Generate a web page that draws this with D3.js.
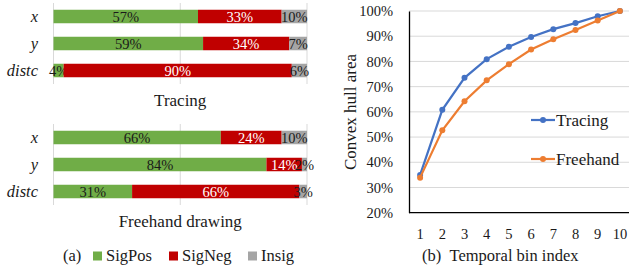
<!DOCTYPE html>
<html><head><meta charset="utf-8">
<script src="https://cdn.jsdelivr.net/npm/d3@7"></script>
<style>
html,body{margin:0;padding:0;background:#fff;}
svg{display:block;}
svg text{font-family:"Liberation Serif","Times New Roman",serif !important;}
</style></head>
<body>
<script>
// ---- data ----
const rowLabels = ["x", "y", "distc"];
const segKeys = ["SigPos", "SigNeg", "Insig"];
const tracingPos = [57, 59, 4];
const tracingNeg = [33, 34, 90];
const tracingIns = [10, 7, 6];
const freehandPos = [66, 84, 31];
const freehandNeg = [24, 14, 66];
const freehandIns = [10, 2, 3];
const panelTitles = ["Tracing", "Freehand drawing"];

const bins = [1, 2, 3, 4, 5, 6, 7, 8, 9, 10];
const tracingArea = [35.0, 60.8, 73.5, 80.9, 85.8, 89.7, 92.8, 95.2, 97.9, 100];
const freehandArea = [33.9, 52.7, 64.2, 72.5, 78.9, 84.7, 88.8, 92.5, 96.2, 100];
const yTicks = [20, 30, 40, 50, 60, 70, 80, 90, 100];
const seriesNames = ["Tracing", "Freehand"];

const segColors = {SigPos: "#70AD47", SigNeg: "#C00000", Insig: "#A5A5A5"};
const segText = {SigPos: "#1a1a1a", SigNeg: "#ffffff", Insig: "#1a1a1a"};
const lineColors = ["#4472C4", "#ED7D31"];
const FONT = "Liberation Serif";

const W = 629, H = 273;
const svg = d3.select("body").append("svg").attr("width", W).attr("height", H)
  .attr("font-family", FONT);

// ---- left: stacked bars ----
const xBar = d3.scaleLinear().domain([0, 100]).range([53.5, 307]);
const panels = [
  {pos: tracingPos, neg: tracingNeg, ins: tracingIns, top: 3, title: panelTitles[0], titleY: 106},
  {pos: freehandPos, neg: freehandNeg, ins: freehandIns, top: 124, title: panelTitles[1], titleY: 227}
];
panels.forEach(p => {
  const g = svg.append("g");
  const yB = d3.scaleBand().domain(rowLabels).range([p.top, p.top + 81]).paddingInner(0.5).paddingOuter(0.25);
  g.selectAll("line.grid").data([0, 50, 100]).join("line")
    .attr("x1", d => xBar(d)).attr("x2", d => xBar(d))
    .attr("y1", p.top).attr("y2", p.top + 81)
    .attr("stroke", "#d9d9d9").attr("stroke-width", 1);
  const rows = rowLabels.map((r, i) => ({row: r, SigPos: p.pos[i], SigNeg: p.neg[i], Insig: p.ins[i]}));
  const stacked = d3.stack().keys(segKeys)(rows);
  stacked.forEach(layer => {
    g.selectAll(null).data(layer).join("rect")
      .attr("x", d => xBar(d[0])).attr("width", d => xBar(d[1]) - xBar(d[0]))
      .attr("y", d => yB(d.data.row)).attr("height", yB.bandwidth())
      .attr("fill", segColors[layer.key]);
    g.selectAll(null).data(layer).join("text")
      .attr("x", d => (xBar(d[0]) + xBar(d[1])) / 2)
      .attr("y", d => yB(d.data.row) + yB.bandwidth() / 2)
      .attr("dy", "0.35em").attr("text-anchor", "middle")
      .attr("font-size", 14.5).attr("fill", segText[layer.key])
      .text(d => d.data[layer.key] + "%");
  });
  g.selectAll("text.row").data(rowLabels).join("text")
    .attr("x", 38).attr("y", d => yB(d) + yB.bandwidth() / 2).attr("dy", "0.35em")
    .attr("text-anchor", "end").attr("font-style", "italic").attr("font-size", 16.5)
    .attr("fill", "#1a1a1a").text(d => d);
  g.append("text").attr("x", xBar(50)).attr("y", p.titleY).attr("text-anchor", "middle")
    .attr("font-size", 17).attr("fill", "#1a1a1a").text(p.title);
});
// legend (a)
const lg = svg.append("g").attr("fill", "#1a1a1a").attr("font-size", 16.5);
lg.append("text").attr("x", 63).attr("y", 261).text("(a)");
const legX = [93, 169, 248];
segKeys.forEach((k, i) => {
  lg.append("rect").attr("x", legX[i]).attr("y", 251.5).attr("width", 9).attr("height", 9).attr("fill", segColors[k]);
  lg.append("text").attr("x", legX[i] + 13).attr("y", 261).text(k);
});

// ---- right: line chart ----
const x = d3.scaleBand().domain(bins).range([409, 631]);
const y = d3.scaleLinear().domain([20, 100]).range([212.7, 11]);
const rg = svg.append("g");
rg.selectAll("line.grid").data(yTicks.slice(1)).join("line")
  .attr("x1", 409).attr("x2", 631).attr("y1", d => y(d)).attr("y2", d => y(d))
  .attr("stroke", "#d9d9d9").attr("stroke-width", 1);
const yAxis = rg.append("g").attr("transform", "translate(409,0)")
  .call(d3.axisLeft(y).tickValues(yTicks).tickFormat(d => d + "%").tickSize(0).tickPadding(16))
  .attr("font-family", FONT);
yAxis.select(".domain").attr("stroke", "#000").attr("stroke-width", 1.3);
yAxis.selectAll("text").attr("font-size", 14.5).attr("fill", "#1a1a1a");
const xAxis = rg.append("g").attr("transform", "translate(0,212.7)")
  .call(d3.axisBottom(x).tickSize(0).tickPadding(16))
  .attr("font-family", FONT);
xAxis.select(".domain").attr("stroke", "#000").attr("stroke-width", 1.3).attr("d", "M409,0H631");
xAxis.selectAll("text").attr("font-size", 14.5).attr("fill", "#1a1a1a");

[tracingArea, freehandArea].forEach((vals, si) => {
  const pts = bins.map((b, i) => [x(b) + x.bandwidth() / 2, y(vals[i])]);
  rg.append("path").attr("d", d3.line()(pts)).attr("fill", "none")
    .attr("stroke", lineColors[si]).attr("stroke-width", 2.2);
  rg.selectAll(null).data(pts).join("circle")
    .attr("cx", d => d[0]).attr("cy", d => d[1]).attr("r", 3).attr("fill", lineColors[si]);
});
// legend (b)
const legY = [120, 159];
seriesNames.forEach((n, i) => {
  rg.append("line").attr("x1", 531).attr("x2", 555).attr("y1", legY[i]).attr("y2", legY[i])
    .attr("stroke", lineColors[i]).attr("stroke-width", 2.2);
  rg.append("circle").attr("cx", 543).attr("cy", legY[i]).attr("r", 3).attr("fill", lineColors[i]);
  rg.append("text").attr("x", 556).attr("y", legY[i]).attr("dy", "0.35em")
    .attr("font-size", 17).attr("fill", "#1a1a1a").text(n);
});
// axis titles
rg.append("text").attr("transform", "translate(350,112) rotate(-90)").attr("text-anchor", "middle")
  .attr("dy", "0.35em").attr("font-size", 17).attr("fill", "#1a1a1a").text("Convex hull area");
rg.append("text").attr("x", 422).attr("y", 261).attr("font-size", 16.5).attr("fill", "#1a1a1a")
  .text("(b)\u2002Temporal bin index");
</script>
</body></html>
